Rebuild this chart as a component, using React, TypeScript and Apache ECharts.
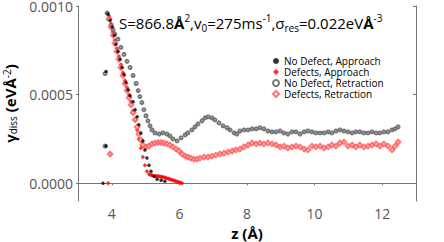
import React, { useEffect, useRef } from "react";
import * as echarts from "echarts";

// No Defect, Approach
const ndApproachZ = [3.74, 3.83, 3.83, 3.89, 3.95, 4.01, 4.07, 4.12, 4.18, 4.24, 4.30, 4.36, 4.42, 4.48, 4.54, 4.63, 4.69, 4.75, 4.80, 4.86, 4.92, 4.98, 5.04, 5.10, 5.16, 5.25, 5.34, 5.46, 5.57];
const ndApproachG = [0, 0.63e-3, 0.21e-3, 0.955e-3, 0.920e-3, 0.881e-3, 0.835e-3, 0.784e-3, 0.744e-3, 0.699e-3, 0.653e-3, 0.614e-3, 0.568e-3, 0.528e-3, 0.494e-3, 0.460e-3, 0.415e-3, 0.375e-3, 0.330e-3, 0.284e-3, 0.239e-3, 0.188e-3, 0.142e-3, 0.102e-3, 0.068e-3, 0.040e-3, 0.023e-3, 0.017e-3, 0.011e-3];

// Defects, Approach
const dApproachZ = [3.89, 3.95, 3.92, 3.98, 4.04, 4.09, 4.15, 4.21, 4.27, 4.33, 4.39, 4.45, 4.51, 4.57, 4.63, 4.69, 4.75, 4.80, 4.86, 4.92, 4.98, 5.04, 5.10, 5.15, 5.19, 5.24, 5.28, 5.33, 5.37, 5.42, 5.46, 5.50, 5.54, 5.59, 5.63, 5.68, 5.72, 5.77, 5.81, 5.86, 5.90, 5.95, 5.99, 6.04, 6.08];
const dApproachG = [0, 0.165e-3, 0.943e-3, 0.898e-3, 0.852e-3, 0.807e-3, 0.761e-3, 0.716e-3, 0.670e-3, 0.625e-3, 0.580e-3, 0.540e-3, 0.500e-3, 0.460e-3, 0.409e-3, 0.358e-3, 0.301e-3, 0.250e-3, 0.199e-3, 0.148e-3, 0.102e-3, 0.068e-3, 0.051e-3, 0.047e-3, 0.045e-3, 0.042e-3, 0.040e-3, 0.041e-3, 0.040e-3, 0.038e-3, 0.037e-3, 0.036e-3, 0.034e-3, 0.031e-3, 0.028e-3, 0.026e-3, 0.023e-3, 0.020e-3, 0.017e-3, 0.014e-3, 0.011e-3, 0.009e-3, 0.006e-3, 0.003e-3, 0];

// No Defect, Retraction
const ndRetractZ = [3.80, 3.80, 3.86, 3.92, 3.98, 4.04, 4.09, 4.18, 4.27, 4.36, 4.45, 4.54, 4.63, 4.72, 4.78, 4.83, 4.89, 4.95, 5.01, 5.07, 5.13, 5.19, 5.28, 5.40, 5.51, 5.63, 5.72, 5.81, 5.93, 6.05, 6.17, 6.25, 6.37, 6.46, 6.55, 6.67, 6.76, 6.85, 6.96, 7.05, 7.17, 7.29, 7.41, 7.50, 7.62, 7.70, 7.79, 7.91, 8.03, 8.15, 8.27, 8.38, 8.50, 8.62, 8.74, 8.86, 8.98, 9.09, 9.21, 9.33, 9.45, 9.57, 9.69, 9.80, 9.92, 10.04, 10.16, 10.28, 10.40, 10.51, 10.63, 10.75, 10.87, 10.99, 11.11, 11.22, 11.34, 11.46, 11.58, 11.70, 11.82, 11.93, 12.05, 12.17, 12.29, 12.38, 12.47];
const ndRetractG = [0.619e-3, 0.210e-3, 0.960e-3, 0.926e-3, 0.892e-3, 0.864e-3, 0.841e-3, 0.813e-3, 0.767e-3, 0.727e-3, 0.688e-3, 0.653e-3, 0.608e-3, 0.563e-3, 0.523e-3, 0.489e-3, 0.455e-3, 0.415e-3, 0.381e-3, 0.352e-3, 0.324e-3, 0.301e-3, 0.284e-3, 0.278e-3, 0.284e-3, 0.278e-3, 0.267e-3, 0.250e-3, 0.239e-3, 0.256e-3, 0.273e-3, 0.284e-3, 0.301e-3, 0.318e-3, 0.335e-3, 0.352e-3, 0.369e-3, 0.375e-3, 0.369e-3, 0.358e-3, 0.341e-3, 0.324e-3, 0.313e-3, 0.301e-3, 0.284e-3, 0.278e-3, 0.295e-3, 0.301e-3, 0.301e-3, 0.307e-3, 0.307e-3, 0.313e-3, 0.307e-3, 0.295e-3, 0.290e-3, 0.290e-3, 0.295e-3, 0.284e-3, 0.278e-3, 0.290e-3, 0.290e-3, 0.278e-3, 0.290e-3, 0.295e-3, 0.290e-3, 0.284e-3, 0.284e-3, 0.284e-3, 0.290e-3, 0.284e-3, 0.295e-3, 0.301e-3, 0.295e-3, 0.290e-3, 0.284e-3, 0.290e-3, 0.290e-3, 0.284e-3, 0.284e-3, 0.290e-3, 0.284e-3, 0.284e-3, 0.290e-3, 0.290e-3, 0.301e-3, 0.307e-3, 0.318e-3];

// Defects, Retraction
const dRetractZ = [3.95, 3.92, 3.98, 4.04, 4.09, 4.15, 4.21, 4.27, 4.33, 4.39, 4.45, 4.51, 4.57, 4.63, 4.69, 4.75, 4.80, 4.86, 4.92, 5.01, 5.10, 5.19, 5.28, 5.37, 5.46, 5.54, 5.63, 5.72, 5.81, 5.90, 5.99, 6.08, 6.17, 6.25, 6.34, 6.43, 6.52, 6.61, 6.73, 6.85, 6.96, 7.08, 7.20, 7.32, 7.44, 7.56, 7.67, 7.79, 7.91, 8.03, 8.15, 8.27, 8.38, 8.50, 8.62, 8.74, 8.86, 8.98, 9.09, 9.21, 9.33, 9.45, 9.57, 9.69, 9.80, 9.92, 10.04, 10.16, 10.28, 10.40, 10.51, 10.63, 10.75, 10.87, 10.99, 11.11, 11.22, 11.34, 11.46, 11.58, 11.70, 11.82, 11.93, 12.05, 12.17, 12.29, 12.38, 12.47];
const dRetractG = [0.165e-3, 0.926e-3, 0.881e-3, 0.835e-3, 0.790e-3, 0.744e-3, 0.699e-3, 0.653e-3, 0.608e-3, 0.563e-3, 0.523e-3, 0.483e-3, 0.443e-3, 0.398e-3, 0.358e-3, 0.318e-3, 0.278e-3, 0.244e-3, 0.216e-3, 0.205e-3, 0.210e-3, 0.222e-3, 0.227e-3, 0.230e-3, 0.230e-3, 0.227e-3, 0.222e-3, 0.216e-3, 0.205e-3, 0.193e-3, 0.182e-3, 0.165e-3, 0.153e-3, 0.148e-3, 0.142e-3, 0.136e-3, 0.136e-3, 0.142e-3, 0.148e-3, 0.148e-3, 0.153e-3, 0.159e-3, 0.165e-3, 0.170e-3, 0.176e-3, 0.182e-3, 0.188e-3, 0.193e-3, 0.205e-3, 0.216e-3, 0.227e-3, 0.222e-3, 0.227e-3, 0.222e-3, 0.227e-3, 0.222e-3, 0.216e-3, 0.205e-3, 0.210e-3, 0.199e-3, 0.205e-3, 0.210e-3, 0.205e-3, 0.193e-3, 0.188e-3, 0.210e-3, 0.205e-3, 0.210e-3, 0.199e-3, 0.205e-3, 0.216e-3, 0.210e-3, 0.227e-3, 0.233e-3, 0.210e-3, 0.216e-3, 0.205e-3, 0.216e-3, 0.205e-3, 0.210e-3, 0.216e-3, 0.222e-3, 0.210e-3, 0.222e-3, 0.210e-3, 0.188e-3, 0.210e-3, 0.233e-3];

const seriesNames = ["No Defect, Approach", "Defects, Approach", "No Defect, Retraction", "Defects, Retraction"];
const xTicks = [4, 6, 8, 10, 12];
const yTicks = [0, 0.0005, 0.001];

const zip = (xs: number[], ys: number[]) => xs.map((x, i) => [x, ys[i]]);

const FONT = "Open Sans";
const AXIS_COLOR = "#777";

export default function App() {
  const ref = useRef<HTMLDivElement>(null);
  useEffect(() => {
    if (!ref.current) return;
    const chart = echarts.init(ref.current, undefined, { renderer: "svg" });
    const base = { fontFamily: FONT, color: "#000", lineHeight: 20, fontWeight: "normal" };
    const nb = { fontFamily: FONT, color: "#000", lineHeight: 16, fontWeight: "normal" };
    chart.setOption({
      animation: false,
      backgroundColor: "#fff",
      textStyle: { fontFamily: FONT },
      title: {
        left: 114,
        top: 8,
        text: "{m|S=866.8}{b|Å}{p|2}{m|,v}{s|0}{m|=275ms}{p|-1}{m|,σ}{s|res}{m|=0.022eV}{b|Å}{p|-3}",
        textStyle: {
          fontWeight: "normal",
          rich: {
            m: { ...base, fontSize: 15, verticalAlign: "middle", fontWeight: 500 },
            b: { ...base, fontSize: 15, verticalAlign: "middle", fontWeight: "bold" },
            p: { ...base, fontSize: 10, verticalAlign: "top" },
            s: { ...base, fontSize: 10, verticalAlign: "bottom" },
          },
        },
      },
      legend: {
        orient: "vertical",
        left: 272,
        top: 56,
        itemWidth: 6,
        itemHeight: 6,
        itemGap: 1,
        padding: 0,
        data: seriesNames,
        textStyle: { fontSize: 10, color: "#000", fontFamily: FONT, lineHeight: 10 },
      },
      grid: { left: 78, right: 28, top: 6, bottom: 41, outerBoundsMode: "none", containLabel: false },
      xAxis: [
        {
          type: "value",
          min: 3,
          max: 13,
          name: "z (Å)",
          nameLocation: "middle",
          nameGap: 24,
          nameTextStyle: { fontSize: 15, fontWeight: "bold", color: "#000", fontFamily: FONT },
          axisLine: { lineStyle: { color: AXIS_COLOR } },
          axisTick: { show: true, length: 2, customValues: xTicks, lineStyle: { color: AXIS_COLOR } },
          axisLabel: { customValues: xTicks, fontSize: 14, color: "#555", margin: 5, fontFamily: FONT },
          splitLine: { show: false },
        },
        {
          type: "value",
          position: "top",
          min: 3,
          max: 13,
          axisLine: { show: true, lineStyle: { color: AXIS_COLOR } },
          axisTick: { show: false },
          axisLabel: { show: false },
          splitLine: { show: false },
        },
      ],
      yAxis: [
        {
          type: "value",
          min: -0.0001,
          max: 0.001,
          name: "{g|γ}{s|diss}{g| (eV}{g|Å}{p|-2}{g|)}",
          nameLocation: "middle",
          nameGap: 53,
          nameTextStyle: {
            rich: {
              g: { ...nb, fontSize: 15, fontWeight: "bold", verticalAlign: "middle" },
              s: { ...nb, fontSize: 10, verticalAlign: "bottom" },
              p: { ...nb, fontSize: 10, verticalAlign: "top" },
            },
          },
          axisLine: { show: true, lineStyle: { color: AXIS_COLOR } },
          axisTick: { show: true, length: 2, customValues: yTicks, lineStyle: { color: AXIS_COLOR } },
          axisLabel: {
            customValues: yTicks,
            fontSize: 14,
            color: "#555",
            margin: 5,
            fontFamily: FONT,
            formatter: (v: number) => v.toFixed(4),
          },
          splitLine: { show: false },
        },
        {
          type: "value",
          position: "right",
          min: -0.0001,
          max: 0.001,
          axisLine: { show: true, lineStyle: { color: AXIS_COLOR } },
          axisTick: { show: true, inside: true, length: 3, customValues: yTicks, lineStyle: { color: AXIS_COLOR } },
          axisLabel: { show: false },
          splitLine: { show: false },
        },
      ],
      series: [
        {
          name: seriesNames[0],
          type: "scatter",
          symbol: "circle",
          symbolSize: 3.5,
          itemStyle: { color: "#000" },
          data: zip(ndApproachZ, ndApproachG),
          z: 3,
        },
        {
          name: seriesNames[1],
          type: "scatter",
          symbol: "diamond",
          symbolSize: 4.5,
          itemStyle: { color: "#f00" },
          data: zip(dApproachZ, dApproachG),
          z: 2,
        },
        {
          name: seriesNames[2],
          type: "scatter",
          symbol: "emptyCircle",
          symbolSize: 3,
          itemStyle: { color: "#555", borderWidth: 0.7 },
          data: zip(ndRetractZ, ndRetractG),
          z: 2,
        },
        {
          name: seriesNames[3],
          type: "scatter",
          symbol: "emptyDiamond",
          symbolSize: 4.5,
          itemStyle: { color: "#f55", borderWidth: 0.7 },
          data: zip(dRetractZ, dRetractG),
          z: 2,
        },
      ],
    });
    return () => chart.dispose();
  }, []);
  return <div ref={ref} style={{ position: "fixed", left: 0, top: 0, width: 444, height: 242 }} />;
}
